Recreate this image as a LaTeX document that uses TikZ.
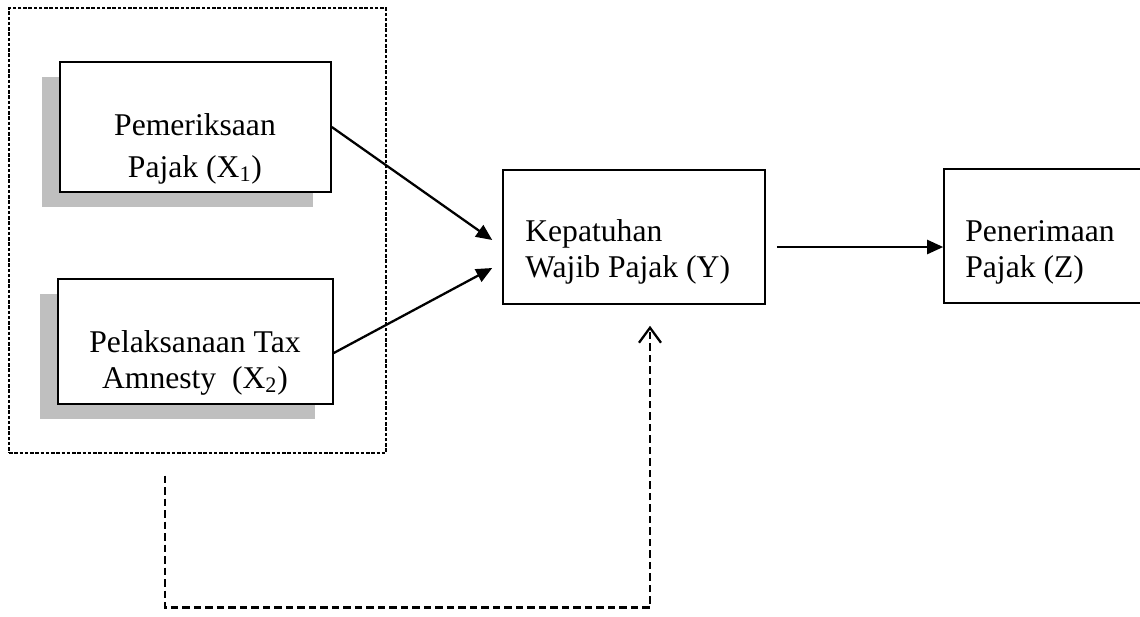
\documentclass[tikz,border=0pt]{standalone}
\usepackage{fontspec}
\setmainfont{Liberation Serif}
\usepackage{tikz}
\usetikzlibrary{positioning, arrows.meta, shadows}
\tikzstyle{variabel} = [rectangle, draw=black, fill=white, line width=0.9pt, drop shadow={shadow xshift=-0.36cm, shadow yshift=-0.3cm, fill=black!25, opacity=1}]
\tikzstyle{kotak} = [rectangle, draw=black, fill=white, line width=0.9pt]
\tikzstyle{kelompok} = [rectangle, draw=black, line width=0.6pt, dash pattern=on 0.07cm off 0.035cm]
\tikzstyle{teks} = [inner sep=0pt, font=\fontsize{18}{20.5}\selectfont]
\tikzstyle{arrow} = [line width=1.3pt,-{Triangle[length=0.32cm,width=0.28cm]}]
\tikzstyle{balik} = [line width=1.3pt, dash pattern=on 0.15cm off 0.08cm, -{Straight Barb[length=0.3cm,width=0.44cm]}]

\begin{document}
\begin{tikzpicture}
\useasboundingbox (0,0) rectangle (22.8,-12.32);

\node (kelompok) [kelompok, minimum width=7.54cm, minimum height=8.9cm] at (3.95,-4.61) {};
\node (pemeriksaan) [variabel, minimum width=5.42cm, minimum height=2.6cm] at (3.91,-2.54) {};
\node (pelaksanaan) [variabel, minimum width=5.5cm, minimum height=2.5cm] at (3.91,-6.83) {};
\node (kepatuhan) [kotak, minimum width=5.24cm, minimum height=2.68cm] at (12.68,-4.74) {};
\node (penerimaan) [kotak, minimum width=3.96cm, minimum height=2.68cm] at (20.86,-4.72) {};

\node (pemeriksaan teks) [teks, align=center] at (3.9,-2.97) {Pemeriksaan\\[0.12cm] Pajak (X\textsubscript{1})};
\node (pelaksanaan teks) [teks, align=center] at (3.9,-7.25) {Pelaksanaan Tax\\ Amnesty\ \ (X\textsubscript{2})};
\node (kepatuhan teks) [teks, align=left, anchor=west] at (10.5,-5.04) {Kepatuhan\\ Wajib Pajak (Y)};
\node (penerimaan teks) [teks, align=left, anchor=west] at (19.3,-5.04) {Penerimaan\\ Pajak (Z)};

\draw [arrow] (pemeriksaan.east) -- ([xshift=-0.2cm,yshift=-0.06cm]kepatuhan.west);
\draw [arrow] ([yshift=-0.23cm]pelaksanaan.east) -- ([xshift=-0.2cm,yshift=-0.62cm]kepatuhan.west);

\coordinate (keluar) at ([xshift=0.22cm,yshift=-0.2cm]kepatuhan.east);
\draw [arrow] (keluar) -- (keluar -| penerimaan.west);

\coordinate (umpan) at ([xshift=-0.65cm,yshift=-0.44cm]kelompok.south);
\draw [balik] (umpan) -- ++(0,-2.64) -| ([xshift=0.32cm,yshift=-0.42cm]kepatuhan.south);

\end{tikzpicture}
\end{document}
